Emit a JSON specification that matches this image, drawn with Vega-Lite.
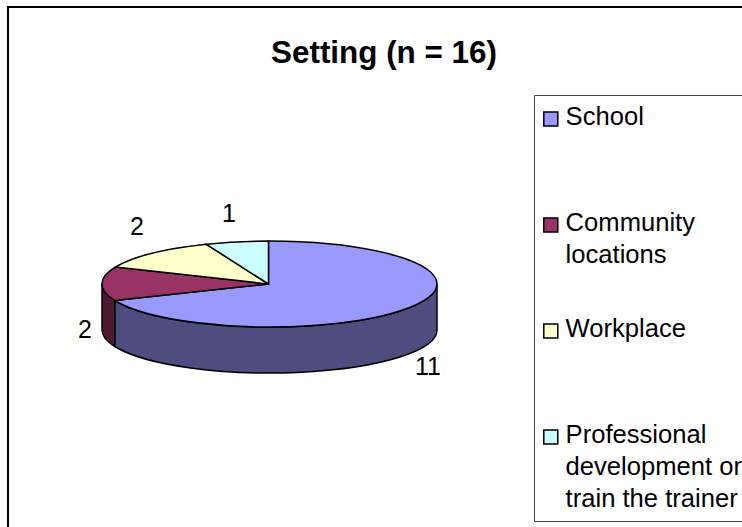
{
"$schema":"https://vega.github.io/schema/vega-lite/v6.json",
"width":750,"height":530,
"autosize":{"type":"none"},
"padding":{"left":8,"top":7,"right":0,"bottom":0},
"background":"white",
"config":{"view":{"stroke":"black","strokeWidth":2},"font":"Liberation Sans"},
"title":{"text":"Setting (n = 16)","font":"Liberation Sans","fontSize":31.4,"fontWeight":"bold","color":"black","frame":"group","anchor":"middle","offset":0,"dy":62,"dx":1},
"data":{"values":[
{"setting":"School","value":11},
{"setting":"Community locations","value":2},
{"setting":"Workplace","value":2},
{"setting":"Professional development or train the trainer","value":1}
]},
"encoding":{
"x":{"datum":0,"type":"quantitative","scale":{"domain":[-261.5,488.5],"nice":false,"zero":false},"axis":null},
"y":{"datum":0,"type":"quantitative","scale":{"domain":[-253,277],"nice":false,"zero":false},"axis":null}
},
"layer":[
{"mark":{"type":"square","size":0,"opacity":1,"stroke":"black"},
"encoding":{
"color":{"field":"setting","type":"nominal","sort":null,
"scale":{"domain":["School","Community locations","Workplace","Professional development or train the trainer"],"range":["#9999ff","#993366","#ffffcc","#ccffff"]},
"legend":{"title":null,"orient":"none","legendX":526,"legendY":88,"strokeColor":"#444","fillColor":"white","padding":8,"gridAlign":"all","rowPadding":14,"symbolSize":196,"symbolOffset":-4,"symbolStrokeColor":"black","symbolStrokeWidth":1.5,"symbolOpacity":1,"labelFont":"Liberation Sans","labelFontSize":25.6,"labelColor":"black","labelLimit":400,"labelOffset":2,"labelBaseline":"top",
"labelExpr":"datum.label=='Community locations'?['Community','locations']:datum.label=='Professional development or train the trainer'?['Professional','development or','train the trainer']:datum.label",
"encoding":{"labels":{"lineHeight":{"value":32},"dy":{"value":-11}},"symbols":{"y":{"value":16}}}}}
}},
{"transform":[{"filter":"datum.setting=='School'||datum.setting=='Community locations'"}],
"mark":{"type":"point","filled":true,"opacity":1,"stroke":"black","strokeWidth":1.5,"size":4},
"encoding":{
"color":{"field":"setting","type":"nominal","legend":null,"scale":{"domain":["School","Community locations"],"range":["#4d4d80","#4d1a33"]}},
"shape":{"field":"setting","type":"nominal","legend":null,"scale":{"domain":["School","Community locations"],"range":["M-154.7,16.5 A167.5,43 0 0 0 167.5,0 L167.5,46 A167.5,43 0 0 1 -154.7,62.5 Z","M-154.7,16.5 A167.5,43 0 0 1 -167.5,0 L-167.5,46 A167.5,43 0 0 0 -154.7,62.5 Z"]}}
}},
{"mark":{"type":"point","filled":true,"opacity":1,"stroke":"black","strokeWidth":1.5,"size":4},
"encoding":{
"color":{"field":"setting","type":"nominal","legend":null,
"scale":{"domain":["School","Community locations","Workplace","Professional development or train the trainer"],"range":["#9999ff","#993366","#ffffcc","#ccffff"]}},
"shape":{"field":"setting","type":"nominal","legend":null,"scale":{"domain":["School","Community locations","Workplace","Professional development or train the trainer"],"range":["M-1,0 L-1,-43 A167.5,43 0 1 1 -154.7,16.5 Z","M-1,0 L-154.7,16.5 A167.5,43 0 0 1 -153.9,-17 Z","M-1,0 L-153.9,-17 A167.5,43 0 0 1 -63.4,-39.8 Z","M-1,0 L-63.4,-39.8 A167.5,43 0 0 1 -1,-43 Z"]}}
}},
{"transform":[{"filter":"datum.setting=='School'"}],"mark":{"type":"text","font":"Liberation Sans","fontSize":25,"color":"black","dx":158.5,"dy":83},"encoding":{"text":{"field":"value","type":"quantitative"}}},
{"transform":[{"filter":"datum.setting=='Community locations'"}],"mark":{"type":"text","font":"Liberation Sans","fontSize":25,"color":"black","dx":-184.5,"dy":46},"encoding":{"text":{"field":"value","type":"quantitative"}}},
{"transform":[{"filter":"datum.setting=='Workplace'"}],"mark":{"type":"text","font":"Liberation Sans","fontSize":25,"color":"black","dx":-132.5,"dy":-57},"encoding":{"text":{"field":"value","type":"quantitative"}}},
{"transform":[{"filter":"datum.setting=='Professional development or train the trainer'"}],"mark":{"type":"text","font":"Liberation Sans","fontSize":25,"color":"black","dx":-40.5,"dy":-70},"encoding":{"text":{"field":"value","type":"quantitative"}}}
],
"resolve":{"scale":{"color":"independent","shape":"independent"}}
}
